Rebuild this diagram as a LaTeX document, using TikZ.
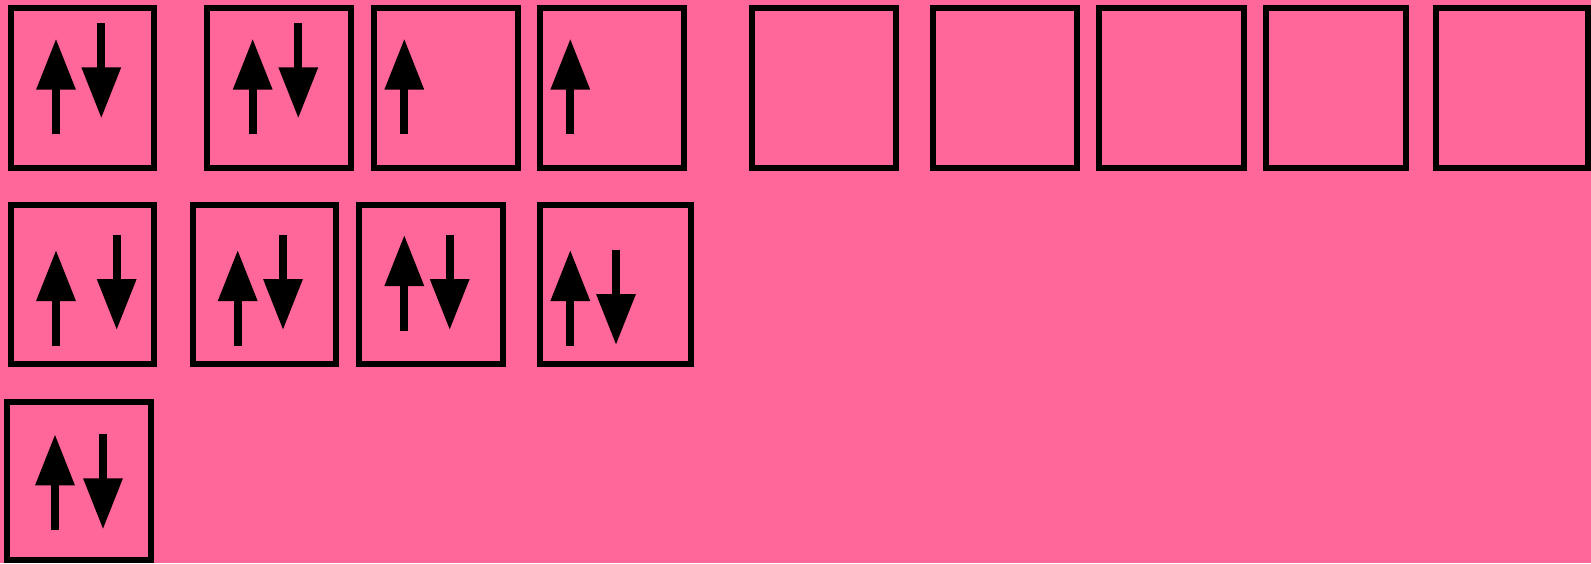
\documentclass[tikz,border=0pt]{standalone}
\usetikzlibrary{arrows.meta}
\definecolor{bg}{HTML}{FF6699}
\tikzset{
  orb/.style={draw=black,line width=3pt},
  spin/.style={line width=4pt,-{Triangle[length=25.5pt,width=18.75pt]}}
}
\begin{document}
\begin{tikzpicture}[x=0.5pt,y=-0.5pt]
\fill[bg] (0,0) rectangle (1591,563);
\useasboundingbox (0,0) rectangle (1591,563);
% boxes, row 1
\foreach \l/\r in {11/154.3,207.3/351.3,374/517.7,540.3/684.3,752/896,
  933.3/1077.3,1099.3/1243.7,1266.3/1406.3,1435.7/1588}{
\draw[orb] (\l,8) rectangle (\r,167.7);}
% row 2
\foreach \l/\r in {11/154.3,192.7/336.3,359/502.7,540.3/691.3}{
\draw[orb] (\l,204.7) rectangle (\r,364.3);}
% row 3
\draw[orb] (7,402) rectangle (150.7,560);
% spins
\foreach \x/\a/\b in {56/134.3/38.7,101.3/23.3/118.3,252.7/134.3/38.7,
  298.3/23.3/118.3,404.3/134.3/38.7,570.3/134.3/38.7,
  56/345.7/250,116.7/235/330,237.7/345.7/250,283/235/330,
  404.3/330.7/235,449.7/235/330,570.3/345.7/250,616/250/345,
  55/530/434.3,103/433.7/529.3}{
\draw[spin] (\x,\a)--(\x,\b);}
\end{tikzpicture}
\end{document}
